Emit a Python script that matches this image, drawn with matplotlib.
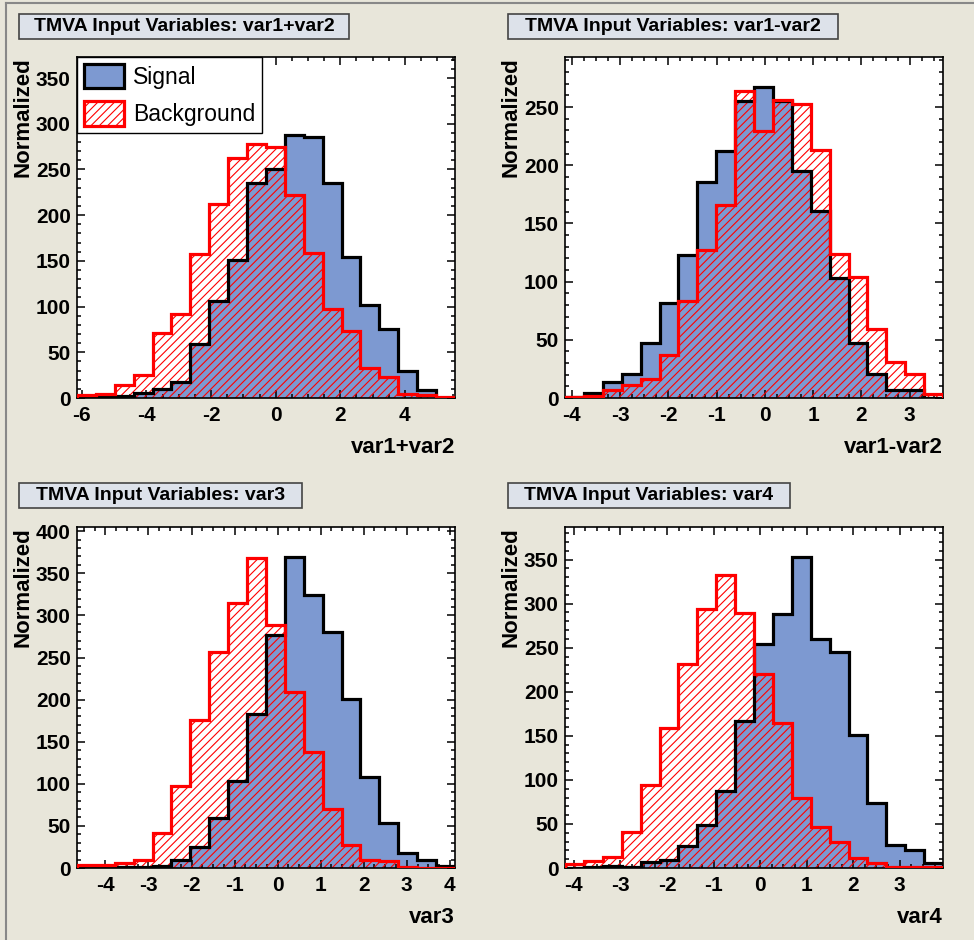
import matplotlib
matplotlib.use("Agg")
import matplotlib.pyplot as plt
import numpy as np
from matplotlib.patches import Rectangle, Patch
from matplotlib.lines import Line2D
from matplotlib.ticker import MultipleLocator, AutoMinorLocator

# variables and axis ranges
variables = ["var1+var2", "var1-var2", "var3", "var4"]
x_ranges = [(-6.15, 5.55), (-4.14, 3.69), (-4.66, 4.12), (-4.19, 3.93)]
y_tops = [373, 293, 405, 387]
x_steps = [2, 1, 1, 1]

# histogram contents (20 bins each)
signal_1 = [2, 1, 2, 5, 10, 18, 59, 106, 151, 235, 251, 288, 285, 235, 154, 102, 75, 29, 9, 0]
background_1 = [3, 4, 14, 25, 71, 92, 158, 212, 263, 278, 275, 222, 159, 97, 73, 33, 23, 4, 3, 1]

signal_2 = [1, 4, 14, 21, 47, 82, 123, 186, 212, 255, 267, 255, 195, 161, 103, 47, 21, 7, 7, 0]
background_2 = [1, 1.5, 7, 11, 16, 37, 83, 127, 166, 264, 229, 256, 253, 213, 124, 104, 59, 31, 21, 3.5]

signal_3 = [0, 0, 1, 1, 2, 10, 25, 59, 103, 183, 277, 369, 324, 280, 201, 108, 53, 18, 9, 2]
background_3 = [3, 4, 6, 10, 42, 97, 176, 256, 315, 368, 289, 209, 138, 70, 27, 10, 8, 1, 0.5, 0.5]

signal_4 = [0, 1, 2, 1, 7, 9, 25, 49, 87, 167, 254, 288, 353, 260, 245, 151, 74, 26, 20, 6]
background_4 = [4.5, 8, 13, 41, 94, 159, 232, 294, 332, 289, 220, 165, 79, 47, 30, 11, 6, 1, 1, 1]

signals = [signal_1, signal_2, signal_3, signal_4]
backgrounds = [background_1, background_2, background_3, background_4]

BG = "#e8e6da"
SIG_FILL = "#7d99d1"
TITLE_FILL = "#dde2ea"

plt.rcParams['font.family'] = ['Liberation Sans', 'DejaVu Sans']
plt.rcParams['font.weight'] = 'bold'
plt.rcParams['axes.unicode_minus'] = False
plt.rcParams['hatch.linewidth'] = 0.8

W, H = 974, 940
fig = plt.figure(figsize=(W / 100, H / 100), dpi=100, facecolor=BG)

# panel geometry in pixels: left, top
panel_px = [(77, 57), (565, 57), (77, 527), (565, 527)]
ax_w, ax_h = 378, 341
title_px = [(19, 14, 330), (508, 14, 330), (19, 483, 283), (508, 483, 282)]

# outer frame lines
fig.add_artist(Line2D([6 / W, 1], [1 - 3 / H, 1 - 3 / H], color="#888888", lw=1.5))
fig.add_artist(Line2D([6 / W, 6 / W], [0, 1 - 3 / H], color="#888888", lw=1.5))

for i, var in enumerate(variables):
    left, top = panel_px[i]
    ax = fig.add_axes([left / W, 1 - (top + ax_h) / H, ax_w / W, ax_h / H])
    ax.set_facecolor("white")

    sig = signals[i]
    bkg = backgrounds[i]
    lo, hi = x_ranges[i]
    edges = np.linspace(lo, hi, len(sig) + 1)

    ax.stairs(sig, edges, fill=True, facecolor=SIG_FILL, edgecolor="none", zorder=1)
    ax.stairs(bkg, edges, fill=True, facecolor="none", edgecolor="red",
              hatch="////", linewidth=0, zorder=2)
    ax.stairs(sig, edges, color="black", linewidth=2.3, zorder=3)
    ax.stairs(bkg, edges, color="red", linewidth=2.3, zorder=4)

    ax.set_xlim(lo, hi)
    ax.set_ylim(0, y_tops[i])
    ax.xaxis.set_major_locator(MultipleLocator(x_steps[i]))
    ax.xaxis.set_minor_locator(AutoMinorLocator(4))
    ax.yaxis.set_major_locator(MultipleLocator(50))
    ax.yaxis.set_minor_locator(AutoMinorLocator(5))
    ax.tick_params(which="both", direction="in", top=True, right=True, width=1.1)
    ax.tick_params(which="major", length=6, labelsize=15)
    ax.tick_params(which="minor", length=3)
    ax.tick_params(axis="x", which="major", pad=6)
    ax.tick_params(axis="y", which="major", pad=4.5)
    for s in ax.spines.values():
        s.set_linewidth(1.2)

    ax.set_xlabel(var, fontsize=16, fontweight="bold", loc="right")
    ax.xaxis.set_label_coords(1.0, -0.144)
    ax.xaxis.label.set_va("center")
    ax.set_ylabel("Normalized", fontsize=16, fontweight="bold", loc="top")
    ax.yaxis.set_label_coords(-0.143, 1.0)
    ax.yaxis.label.set_va("center")

    # title box
    tx, ty, tw = title_px[i]
    fig.add_artist(Rectangle((tx / W, 1 - (ty + 25) / H), tw / W, 25 / H,
                             facecolor=TITLE_FILL, edgecolor="#444444", lw=1.2,
                             transform=fig.transFigure))
    fig.text((tx + tw / 2) / W, 1 - (ty + 12.5) / H, "TMVA Input Variables: " + var,
             ha="center", va="center", fontsize=14, fontweight="bold")

    if i == 0:
        handles = [
            Patch(facecolor=SIG_FILL, edgecolor="black", linewidth=2.3, label="Signal"),
            Patch(facecolor="white", edgecolor="red", linewidth=2.3, hatch="////",
                  label="Background"),
        ]
        leg = ax.legend(handles=handles, loc="upper left", bbox_to_anchor=(0, 1),
                        borderaxespad=0, fancybox=False, framealpha=1,
                        edgecolor="black", prop={"size": 16.5, "weight": "normal"},
                        handlelength=1.75, handleheight=1.25, labelspacing=0.55,
                        handletextpad=0.4, borderpad=0.3)
        leg.get_frame().set_linewidth(1.0)
        leg.set_zorder(10)

fig.savefig("out.png", dpi=100, facecolor=BG)
